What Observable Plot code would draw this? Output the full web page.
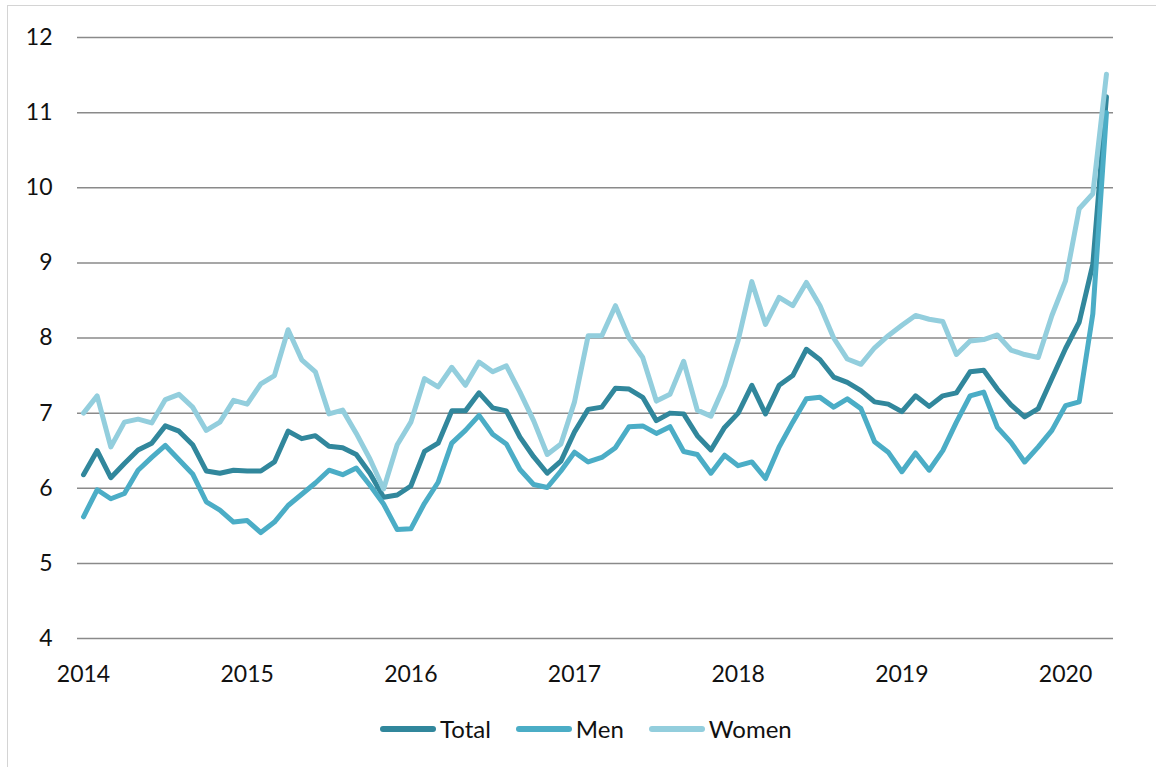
<!DOCTYPE html>
<html>
<head>
<meta charset="utf-8">
<script src="https://cdn.jsdelivr.net/npm/d3@7"></script>
<script src="https://cdn.jsdelivr.net/npm/@observablehq/plot@0.6"></script>
<style>
  html, body { margin: 0; padding: 0; background: #fff; overflow: hidden; }
  #wrap { position: relative; width: 1156px; height: 767px; font-family: Lato, "Open Sans", sans-serif; }
  #frame { position: absolute; left: 7px; top: 5px; width: 1200px; height: 800px; border: 1px solid #d4d4d4; box-sizing: border-box; }
  #chart { position: absolute; left: 0; top: 0; }
  #legend { position: absolute; left: 380px; top: 714px; height: 30px; line-height: 30px; display: flex; gap: 25px; align-items: center; font-size: 24px; color: #111; }
  .item { display: flex; align-items: center; gap: 4px; }
  .sw { width: 56px; height: 6px; border-radius: 3px; }
</style>
</head>
<body>
<div id="wrap">
  <div id="frame"></div>
  <div id="chart"></div>
  <div id="legend"></div>
</div>
<script>
const startYear = 2014;
const seriesNames = ["Total", "Men", "Women"];
const seriesColors = ["#31879c", "#4badc6", "#93cedd"];
const yTicks = [4, 5, 6, 7, 8, 9, 10, 11, 12];
const xTicks = [2014, 2015, 2016, 2017, 2018, 2019, 2020];

const total = [6.18, 6.50, 6.14, 6.33, 6.51, 6.60, 6.83, 6.76, 6.58, 6.23,
  6.20, 6.24, 6.23, 6.23, 6.35, 6.76, 6.66, 6.70, 6.56, 6.54,
  6.45, 6.20, 5.88, 5.91, 6.03, 6.49, 6.60, 7.03, 7.03, 7.27,
  7.07, 7.03, 6.68, 6.42, 6.20, 6.36, 6.75, 7.05, 7.08, 7.33,
  7.32, 7.21, 6.90, 7.00, 6.99, 6.70, 6.51, 6.81, 7.00, 7.37,
  6.99, 7.37, 7.50, 7.85, 7.71, 7.48, 7.41, 7.30, 7.15, 7.12,
  7.02, 7.23, 7.09, 7.23, 7.27, 7.55, 7.57, 7.32, 7.11, 6.95,
  7.06, 7.46, 7.86, 8.21, 8.98, 11.21];

const men = [5.62, 5.98, 5.86, 5.93, 6.24, 6.41, 6.57, 6.38, 6.19, 5.82,
  5.71, 5.55, 5.57, 5.41, 5.55, 5.77, 5.92, 6.07, 6.24, 6.18,
  6.27, 6.04, 5.79, 5.45, 5.46, 5.80, 6.08, 6.60, 6.77, 6.97,
  6.72, 6.59, 6.25, 6.05, 6.01, 6.23, 6.48, 6.35, 6.41, 6.54,
  6.82, 6.83, 6.73, 6.82, 6.49, 6.45, 6.20, 6.44, 6.30, 6.35,
  6.13, 6.55, 6.88, 7.19, 7.21, 7.08, 7.19, 7.06, 6.62, 6.48,
  6.22, 6.47, 6.24, 6.50, 6.88, 7.23, 7.28, 6.81, 6.61, 6.35,
  6.55, 6.77, 7.10, 7.15, 8.32, 11.0];

const women = [7.00, 7.23, 6.55, 6.88, 6.92, 6.87, 7.18, 7.25, 7.08, 6.77,
  6.88, 7.17, 7.12, 7.39, 7.50, 8.11, 7.71, 7.55, 6.99, 7.04,
  6.73, 6.39, 5.99, 6.58, 6.88, 7.46, 7.35, 7.61, 7.37, 7.68,
  7.55, 7.63, 7.28, 6.90, 6.45, 6.59, 7.15, 8.03, 8.03, 8.43,
  8.00, 7.74, 7.16, 7.25, 7.69, 7.04, 6.96, 7.37, 7.97, 8.75,
  8.18, 8.54, 8.43, 8.74, 8.43, 8.00, 7.72, 7.65, 7.87, 8.03,
  8.17, 8.30, 8.25, 8.22, 7.78, 7.96, 7.98, 8.04, 7.84, 7.78,
  7.74, 8.30, 8.76, 9.72, 9.92, 11.51];

const seriesValues = [total, men, women];
const rows = seriesValues.map((vals, s) =>
  vals.map((v, i) => ({ t: startYear + i / 12, v, s: seriesNames[s] })));

const chart = Plot.plot({
  width: 1156,
  height: 700,
  marginLeft: 77,
  marginRight: 43,
  marginTop: 37,
  marginBottom: 62,
  style: { fontFamily: "Lato, 'Open Sans', sans-serif", fontSize: "23px", color: "#111", background: "transparent" },
  x: { type: "linear", domain: [2013.9633, 2020.293] },
  y: { domain: [4, 12] },
  marks: [
    Plot.ruleY(yTicks, { stroke: "#8a8a8a", strokeWidth: 1.5 }),
    Plot.axisY({ ticks: yTicks, tickSize: 0, tickPadding: 25, label: null, fontSize: 23 }),
    Plot.axisX({ ticks: xTicks, tickSize: 0, tickPadding: 27, tickFormat: d => String(d), label: null, fontSize: 23 }),
    ...rows.map((r, s) => Plot.line(r, {
      x: "t", y: "v", stroke: seriesColors[s], strokeWidth: 5,
      strokeLinejoin: "round", strokeLinecap: "round"
    }))
  ]
});
document.getElementById("chart").appendChild(chart);

const legend = document.getElementById("legend");
seriesNames.forEach((n, i) => {
  const it = document.createElement("div");
  it.className = "item";
  const sw = document.createElement("div");
  sw.className = "sw";
  sw.style.background = seriesColors[i];
  const tx = document.createElement("span");
  tx.textContent = n;
  it.appendChild(sw);
  it.appendChild(tx);
  legend.appendChild(it);
});
</script>
</body>
</html>
